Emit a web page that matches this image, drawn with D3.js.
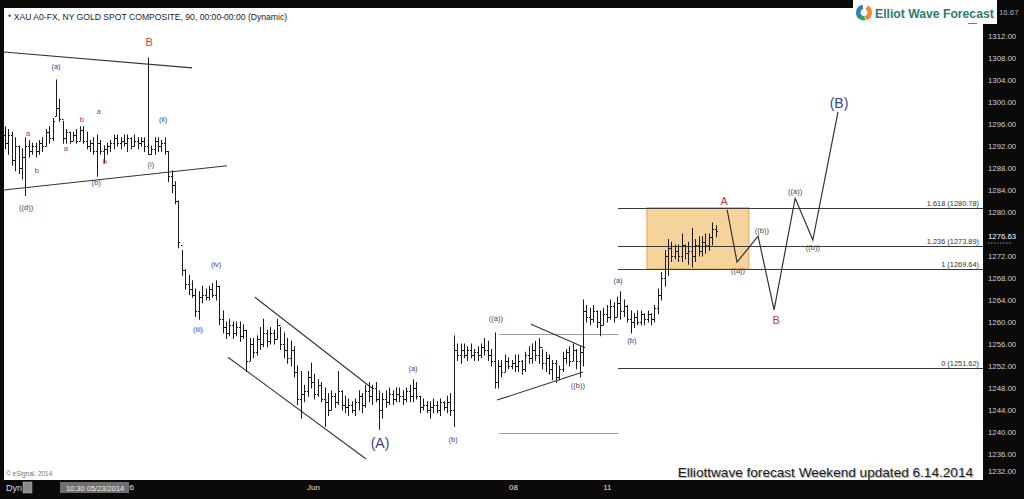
<!DOCTYPE html>
<html><head><meta charset="utf-8">
<script src="https://cdn.jsdelivr.net/npm/d3@7"></script>
<style>
html,body{margin:0;padding:0;background:#0a0a0a;overflow:hidden;}
svg{display:block;font-family:Arial,"Liberation Sans",sans-serif;}
</style></head><body>
<svg id="c" width="1024" height="499"></svg>
<script>
// ---- OHLC bars (90-minute) ----
const highs=[
1295.5,1295,1294.5,1293.5,1292,1291.5,1293.5,1293,1292.5,1292.5,
1293,1293.5,1295,1295.5,1297,1304,1300.5,1296.5,1295,1294.5,
1294.5,1295,1295.5,1295.5,1294.5,1293,1293.5,1294,1293,1292,
1292.5,1293,1294,1294,1293.5,1294,1294,1293.5,1294,1293.5,
1293.5,1293.5,1308,1292,1293.5,1293.5,1293,1293.5,1291,1287.5,
1285.5,1282,1273,1269.5,1268.5,1267.5,1266,1265.5,1266.5,1266,
1266.5,1267,1267.5,1266.5,1262,1260,1260.5,1260,1260,1260,
1259.5,1258.5,1257,1257,1257.5,1259,1260.5,1258.5,1259,1258.5,
1260.5,1259,1258,1257,1256.5,1255.5,1252,1251,1248.5,1251,
1252.5,1250.5,1249.5,1249,1248,1247,1247.5,1247,1251,1247.5,
1246.5,1246,1245.5,1246,1247.5,1247,1248.5,1249,1248.5,1249,
1247.5,1247,1247.5,1248,1247.5,1248,1248,1247.5,1248,1248.5,
1249.5,1249,1246.5,1246,1245.5,1245.5,1246,1245.5,1246,1245.5,
1246.5,1247,1257.5,1256,1256,1256,1255.5,1256,1255,1255.5,
1256,1257,1256.5,1255,1258,1253,1253,1254,1253.5,1253,
1254,1254,1253,1254.5,1255.5,1256,1256.5,1257,1255,1254.5,
1254,1253,1253,1252,1254.5,1255,1255.5,1256,1255,1255.5,
1264,1263,1262.5,1263,1262,1262,1262.5,1263,1264,1263.5,
1264.5,1265.5,1264,1263,1262,1261.5,1262,1262,1261.5,1262,
1261.5,1263,1266,1269,1273,1275,1274.5,1274,1274,1276,
1274,1274.5,1277,1275,1275.5,1275.5,1276,1276,1278,1277.5];
const lows=[
1291.5,1290.5,1288.5,1287.5,1287,1286,1283,1290,1290.5,1290,
1290.5,1291,1292,1292.5,1293,1297.5,1296.5,1292.5,1292.5,1292.5,
1293,1292.5,1293,1292.5,1291.5,1291,1290.5,1286.5,1290.5,1289,
1290.5,1291,1291.5,1292,1291.5,1292,1291,1291.5,1292,1291.5,
1292,1291,1290.5,1290.5,1290.5,1291,1291,1290.5,1285.5,1283.5,
1281.5,1273.5,1268.5,1266,1265,1264.5,1261,1260.5,1263.5,1264,
1264,1264.5,1264,1259.5,1258,1257,1257.5,1257,1257.5,1256.5,
1257,1251,1253,1253.5,1254,1255,1255.5,1255.5,1256,1256,
1257,1255,1253.5,1252.5,1252,1250,1245,1242.5,1245.5,1246.5,
1248,1246,1246.5,1245.5,1241,1243,1244,1244.5,1245,1244,
1243.5,1243,1243.5,1243,1244,1243.5,1244.5,1245.5,1245,1245.5,
1240.5,1242.5,1244.5,1245,1245,1245.5,1245.5,1245,1245.5,1245.5,
1245.5,1246,1243.5,1244,1243.5,1242.5,1243.5,1243.5,1243,1244,
1243.5,1243,1241,1253,1252.5,1253.5,1253,1253.5,1253,1253,
1253.5,1254,1253,1252,1248,1248,1250,1251,1251.5,1251.5,
1251,1251,1250.5,1251,1252.5,1252.5,1253,1252.5,1251.5,1251,
1250.5,1249.5,1249,1249.5,1251,1252.5,1252,1253,1251.5,1250,
1252,1260,1259.5,1260,1259,1257.5,1259.5,1260,1260.5,1260,
1261,1260.5,1261,1260,1258,1259,1259.5,1259.5,1259.5,1260,
1259.5,1260,1261.5,1264,1266.5,1268.5,1271,1271.5,1271,1271,
1271.5,1270.5,1270,1271,1272,1272,1272.5,1273,1274,1275.5];
const opens=[
1294,1292.5,1294,1289.5,1292,1288,1290,1292,1291,1292,
1291,1292.5,1292,1294.5,1293.5,1297.5,1299,1297,1293.5,1294.5,
1293,1294,1293,1295,1293,1292,1292.5,1291,1292.5,1291,
1291.5,1292,1292.5,1293.5,1292.5,1293,1292.5,1293.5,1292,1293,
1292.5,1293,1292,1290.5,1291.5,1293,1292,1292.5,1291,1286.5,
1285,1282,1274,1269.5,1267,1266,1265,1262,1264.5,1265,
1264.5,1266,1265,1266.5,1260.5,1259,1258,1259.5,1258,1259,
1257.5,1258.5,1253,1256,1254.5,1257,1256,1258,1256.5,1258,
1257,1259.5,1256,1255,1253.5,1255,1251,1246,1247,1247.5,
1250,1249,1247,1248.5,1246,1245.5,1244,1246.5,1245.5,1247.5,
1245,1244.5,1245,1244,1245.5,1246.5,1245,1247.5,1246.5,1248,
1246,1244,1246,1245.5,1247,1246,1247,1246.5,1246,1247.5,
1246.5,1248,1246.5,1244.5,1245,1244,1244.5,1245,1244,1245.5,
1244.5,1245.5,1244,1255,1254,1255,1254,1255,1254,1254.5,
1254,1255.5,1255,1254,1253,1249,1252,1251,1253,1252,
1252.5,1252,1253,1251.5,1254,1253.5,1255,1254,1255.5,1252.5,
1253.5,1251.5,1252.5,1250,1251.5,1253.5,1254.5,1253,1255,1253,
1254.5,1262,1261,1260.5,1262,1260,1259.5,1261.5,1261,1263,
1261,1263.5,1262,1263,1260.5,1260,1261,1260,1261.5,1260.5,
1261.5,1260.5,1262.5,1265,1268,1272,1273.5,1272,1273,1272,
1274,1272.5,1273,1272,1274,1273,1274.5,1274,1275.5,1277];
const closes=[
1292.5,1294,1289.5,1292,1288,1290,1292,1291,1292,1291,
1292.5,1292,1294.5,1293.5,1296.5,1299,1297,1293.5,1294.5,1293,
1294,1293,1295,1293,1292,1292.5,1291,1292.5,1291,1291.5,
1292,1292.5,1293.5,1292.5,1293,1292.5,1293.5,1292,1293,1292.5,
1293,1292,1290.5,1291.5,1293,1292,1292.5,1291,1286.5,1285,
1282,1274.5,1269.5,1267,1266,1265,1262,1264.5,1265,1264.5,
1266,1265,1266.5,1260.5,1259,1258,1259.5,1258,1259,1257.5,
1258.5,1253,1256,1254.5,1257,1256,1258,1256.5,1258,1257,
1259.5,1256,1255,1253.5,1255,1251,1246,1247,1247.5,1250,
1249,1247,1248.5,1246,1245.5,1244,1246.5,1245.5,1247.5,1245,
1244.5,1245,1244,1245.5,1246.5,1245,1247.5,1246.5,1248,1246,
1244,1246,1245.5,1247,1246,1247,1246.5,1246,1247.5,1246.5,
1248,1246.5,1244.5,1245,1244,1244.5,1245,1244,1245.5,1244.5,
1245.5,1244,1255,1254,1255,1254,1255,1254,1254.5,1254,
1255.5,1255,1254,1253,1249,1252,1251,1253,1252,1252.5,
1252,1253,1251.5,1254,1253.5,1255,1254,1255.5,1252.5,1253.5,
1251.5,1252.5,1250,1251.5,1253.5,1254.5,1253,1255,1253,1254.5,
1262,1261,1260.5,1262,1260,1259.5,1261.5,1261,1263,1261,
1263.5,1262,1263,1260.5,1260,1261,1260,1261.5,1260.5,1261.5,
1260.5,1262.5,1265,1268,1272,1273.5,1272,1273,1272,1274,
1272.5,1273,1272,1274,1273,1274.5,1274,1275.5,1277,1276.63];

// ---- axes ----
const priceTicks=[1232,1236,1240,1244,1248,1252,1256,1260,1264,1268,1272,1276,1280,1284,1288,1292,1296,1300,1304,1308,1312];
const timeTickIdx=[36.5,90.6,149.4,177];
const timeTickLabels=["26","Jun","08","11"];
const lastPrice=1276.63;
const topPrice=1316.67;

// ---- Fibonacci extension levels ----
const fibRatios=["1.618","1.236","1","0"];
const fibPrices=[1280.78,1273.89,1269.64,1251.62];
const fibStartIdx=180.3;

// ---- target zone box ----
const boxIdx=[188.8,218.8];
const boxPrice=[1269.64,1280.78];

// ---- trend / channel lines: [idx1, price1, idx2, price2] ----
const trendLines=[
 [-0.3,1309.1,55,1306.2],
 [-0.3,1284,65.3,1288.4],
 [73.5,1264.5,107.9,1248],
 [65.6,1253.6,106.2,1235.1],
 [144.7,1245.8,170,1250.9],
 [154.7,1259.6,170.6,1255.3]
];
const guideLines=[[145.3,1257.8,180.3,1257.8],[145.3,1239.8,180.3,1239.8]];

// ---- projected path ----
const projIdx=[212.4,215.3,221.5,226.2,232.4,237.6,245];
const projPrice=[1280.4,1270.9,1275.6,1262.2,1282.5,1274.9,1298.2];

// ---- wave labels ----
const waveText=["(a)","a","b","a","b","a","b","(b)","((d))","B","(i)","(ii)","(iii)","(iv)","(A)","(a)","(b)","((a))","((b))","(a)","(b)","A","((a))","((b))","B","((a))","((b))","(B)"];
const waveIdx=[15,6.8,9.4,17.9,22.6,27.6,29.4,26.8,6.2,42.4,42.9,46.5,56.8,62.1,110.3,120,131.8,144.4,168.5,180.3,184.4,211.5,215.6,222.6,226.8,232.4,237.6,245.3];
const wavePrice=[1306.5,1294.2,1287.6,1291.6,1296.9,1298.2,1289.1,1285.3,1280.9,1310.9,1288.7,1296.9,1258.7,1270.5,1238,1251.5,1238.7,1260.7,1248.5,1267.6,1256.7,1282,1269.3,1276.7,1260.4,1283.8,1273.6,1299.8];
const waveKind=["n","r","r","r","r","r","r","n","d","R","n","n","n","n","N","n","n","d","d","n","n","R","d","d","R","d","d","N"];

// ---------------- drawing ----------------
const svg=d3.select("#c");
const W=1024,H=499;
const plot={l:4,t:8,r:983,b:480};

const x=d3.scaleLinear().domain([0,209]).range([5,715.6]);
const y=d3.scaleLinear().domain([1232,1312]).range([476,36]);

svg.append("rect").attr("width",W).attr("height",H).attr("fill","#0a0a0a");
svg.append("rect").attr("x",plot.l).attr("y",plot.t).attr("width",plot.r-plot.l).attr("height",plot.b-plot.t).attr("fill","#ffffff");

svg.append("clipPath").attr("id","pc").append("rect")
 .attr("x",plot.l).attr("y",plot.t).attr("width",plot.r-plot.l).attr("height",plot.b-plot.t);
const g=svg.append("g").attr("clip-path","url(#pc)");

// title
g.append("text").attr("x",8).attr("y",19.5).attr("font-size",8.6).attr("fill","#222")
 .text("* XAU A0-FX, NY GOLD SPOT COMPOSITE, 90, 00:00-00:00 (Dynamic)");

// box
g.append("rect").attr("x",x(boxIdx[0])).attr("y",y(boxPrice[1]))
 .attr("width",x(boxIdx[1])-x(boxIdx[0])).attr("height",y(boxPrice[0])-y(boxPrice[1]))
 .attr("fill","#f6d39b").attr("stroke","#e2a64e").attr("stroke-width",1);

// fib lines
fibPrices.forEach((p,k)=>{
  const yy=Math.round(y(p))+0.5;
  g.append("line").attr("x1",x(fibStartIdx)).attr("x2",plot.r).attr("y1",yy).attr("y2",yy)
   .attr("stroke","#3a3a3a").attr("stroke-width",1);
  g.append("text").attr("x",979).attr("y",yy-2.5).attr("text-anchor","end")
   .attr("font-size",7.4).attr("fill","#333").text(fibRatios[k]+" ("+p.toFixed(2)+")");
});

// guide lines
guideLines.forEach(s=>{
  g.append("line").attr("x1",x(s[0])).attr("x2",x(s[2])).attr("y1",Math.round(y(s[1]))+0.5).attr("y2",Math.round(y(s[3]))+0.5)
   .attr("stroke","#9a9a9a").attr("stroke-width",1);
});

// trend lines
trendLines.forEach(s=>{
  g.append("line").attr("x1",x(s[0])).attr("y1",y(s[1])).attr("x2",x(s[2])).attr("y2",y(s[3]))
   .attr("stroke","#333").attr("stroke-width",1.1);
});

// bars
const bars=g.append("g").attr("stroke","#1a1a1a").attr("stroke-width",1);
highs.forEach((h,i)=>{
  const xx=Math.round(x(i))+0.5;
  bars.append("line").attr("x1",xx).attr("x2",xx).attr("y1",y(h)-0.5).attr("y2",y(lows[i])+0.5);
  const yo=Math.round(y(opens[i]))+0.5, yc=Math.round(y(closes[i]))+0.5;
  bars.append("line").attr("x1",xx-1.5).attr("x2",xx).attr("y1",yo).attr("y2",yo);
  bars.append("line").attr("x1",xx).attr("x2",xx+1.5).attr("y1",yc).attr("y2",yc);
});

// projected path
const line=d3.line().x((d,i)=>x(projIdx[i])).y(d=>y(d));
g.append("path").attr("d",line(projPrice)).attr("fill","none").attr("stroke","#333").attr("stroke-width",1.2);

// wave labels
const kindStyle={n:{c:"#3b3b8f",s:7.5},r:{c:"#b2343b",s:7.5},d:{c:"#444",s:7.5},N:{c:"#3b3b8f",s:14},R:{c:"#c0393f",s:11}};
waveText.forEach((t,k)=>{
  const st=kindStyle[waveKind[k]];
  g.append("text").attr("x",x(waveIdx[k])).attr("y",y(wavePrice[k])).attr("text-anchor","middle")
   .attr("dominant-baseline","central").attr("font-size",st.s).attr("fill",st.c).text(t);
});

// footer texts
g.append("text").attr("x",6).attr("y",476).attr("font-size",6.5).attr("fill","#777").text("\u00a9 eSignal, 2014");
const ft="Elliottwave forecast Weekend updated 6.14.2014";
g.append("text").attr("x",974).attr("y",478).attr("text-anchor","end").attr("font-size",13.6).attr("fill","#b8b8b8").text(ft);
g.append("text").attr("x",973).attr("y",477).attr("text-anchor","end").attr("font-size",13.6).attr("fill","#1d1d1d").text(ft);

// right price axis
const ax=svg.append("g").attr("transform","translate("+plot.r+",0)")
 .call(d3.axisRight(y).tickValues(priceTicks).tickFormat(d3.format(".2f")).tickSize(0).tickPadding(5));
ax.select(".domain").remove();
ax.selectAll("text").attr("font-size",7.8).attr("fill","#cfcfcf").attr("font-family","Arial,'Liberation Sans',sans-serif");
ax.selectAll(".tick").filter(d=>d===1232).select("text").attr("dy","-0.3em");
ax.selectAll(".tick").filter(d=>d===1276).remove();
svg.append("text").attr("x",988).attr("y",y(lastPrice)+8).attr("font-size",7.8).attr("fill","#fff").text(lastPrice.toFixed(2));
svg.append("line").attr("x1",988).attr("x2",1012).attr("y1",y(lastPrice)+12.5).attr("y2",y(lastPrice)+12.5)
 .attr("stroke","#999").attr("stroke-dasharray","1.5,1.5");
// top price partly hidden behind the logo: only the visible part is drawn
svg.append("text").attr("x",999).attr("y",15).attr("font-size",7.8).attr("fill","#aaa").text(topPrice.toFixed(2).slice(2));

// bottom time axis
const bx=svg.append("g").attr("transform","translate(0,481)")
 .call(d3.axisBottom(x).tickValues(timeTickIdx).tickFormat((d,k)=>timeTickLabels[k]).tickSize(0).tickPadding(3));
bx.select(".domain").remove();
bx.selectAll("text").attr("font-size",8).attr("fill","#e0e0e0").attr("font-family","Arial,'Liberation Sans',sans-serif");
// crosshair date box
svg.append("rect").attr("x",60).attr("y",482).attr("width",69).attr("height",11).attr("fill","#6f6f6f");
svg.append("text").attr("x",x(26.5)).attr("y",490.5).attr("text-anchor","middle").attr("font-size",7.5).attr("fill","#eee").text("10:30 05/23/2014");
svg.append("text").attr("x",6).attr("y",491).attr("font-size",9).attr("fill","#ddd").text("Dyn");
svg.append("rect").attr("x",23).attr("y",482).attr("width",9).attr("height",11).attr("fill","#8a8a8a").attr("stroke","#bbb").attr("stroke-width",0.5);

// logo
const lg=svg.append("g");
lg.append("rect").attr("x",853).attr("y",0).attr("width",144).attr("height",24).attr("fill","#fff");
const arc=d3.arc().innerRadius(3.5).outerRadius(8);
[["#2f7fc1",-2.6,-0.2],["#f28a2a",0.5,2.9],["#3aa35b",3.0,3.9]].forEach(a=>{
  lg.append("path").attr("transform","translate(864,12.5)").attr("d",arc({startAngle:a[1],endAngle:a[2]})).attr("fill",a[0]);
});
lg.append("text").attr("x",875).attr("y",17.5).attr("font-size",12.2).attr("font-weight","bold").attr("fill","#2a7d6c").text("Elliot Wave Forecast");
lg.append("line").attr("x1",968).attr("x2",977).attr("y1",23.5).attr("y2",23.5).attr("stroke","#777");
</script>
</body></html>
